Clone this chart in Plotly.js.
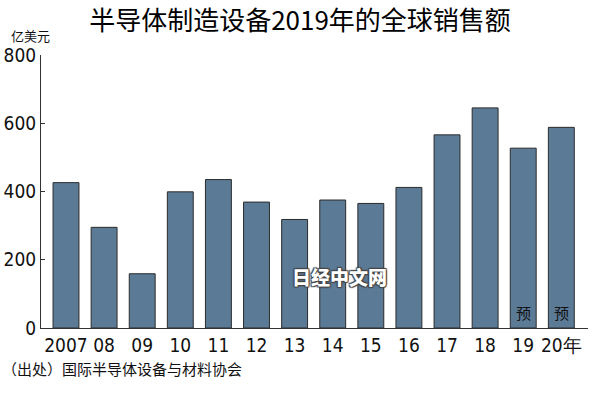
<!DOCTYPE html>
<html>
<head>
<meta charset="utf-8">
<script src="https://cdn.plot.ly/plotly-3.0.1.min.js"></script>
<style>html,body{margin:0;padding:0;background:#fff;}#chart{width:600px;height:394px;}</style>
</head>
<body>
<div id="chart"></div>
<script>
const years = ["2007","08","09","10","11","12","13","14","15","16","17","18","19","20年"];
const sales = [426, 295, 159, 399, 435, 369, 318, 375, 365, 412, 566, 645, 527, 588];
const forecastYears = ["19","20年"];
const forecastMark = "预";
const yTicks = [0, 200, 400, 600, 800];

const numFont = "'Liberation Sans Narrow', 'DejaVu Sans Condensed', 'Noto Sans', sans-serif";
const cjkFont = "'Noto Sans CJK SC', sans-serif";

const trace = {
  type: "bar",
  x: years,
  y: sales,
  marker: {color: "#5b7a96", line: {color: "#2b2b2b", width: 1}},
  hoverinfo: "skip"
};

const annotations = [
  {text: "亿美元", xref: "paper", yref: "paper", x: -0.058, y: 1.073, xanchor: "left", yanchor: "middle",
   showarrow: false, font: {family: cjkFont, size: 13, color: "#111"}},
  {text: "（出处）国际半导体设备与材料协会", xref: "paper", yref: "paper", x: -0.075, y: -0.147, xanchor: "left", yanchor: "middle",
   showarrow: false, font: {family: cjkFont, size: 15, color: "#111"}},
  {text: "日经中文网", xref: "paper", yref: "paper", x: 0.545, y: 0.19, xanchor: "center", yanchor: "middle",
   showarrow: false, font: {family: cjkFont, size: 19, color: "#ffffff", weight: 900, shadow: "1px 1px 1px #444, -1px -1px 1px #444, 1px -1px 1px #444, -1px 1px 1px #444"}}
];
forecastYears.forEach(function (yr) {
  annotations.push({text: forecastMark, xref: "x", yref: "y", x: years.indexOf(yr), y: 0, yshift: 3, xanchor: "center", yanchor: "bottom",
    showarrow: false, font: {family: cjkFont, size: 15, color: "#111"}});
});

const layout = {
  width: 600, height: 394,
  margin: {l: 41, r: 12, t: 55, b: 66},
  paper_bgcolor: "#fff", plot_bgcolor: "#fff",
  showlegend: false,
  bargap: 0.32,
  title: {text: "半导体制造设备2019年的全球销售额", x: 0.5, xanchor: "center", y: 0.946, yanchor: "middle",
          font: {family: cjkFont, size: 26, color: "#000"}},
  xaxis: {type: "category", range: [-0.656, 13.7], showgrid: false, zeroline: false,
          showline: true, linecolor: "#333", linewidth: 1, ticks: "",
          tickfont: {family: numFont, size: 19, color: "#111"}},
  yaxis: {range: [0, 800], tickvals: yTicks, showgrid: false, zeroline: false,
          showline: true, linecolor: "#333", linewidth: 1, ticks: "inside", ticklen: 4, tickcolor: "#333",
          tickfont: {family: numFont, size: 19, color: "#111"}},
  annotations: annotations
};

Plotly.newPlot("chart", [trace], layout, {displayModeBar: false, staticPlot: true});
</script>
</body>
</html>
